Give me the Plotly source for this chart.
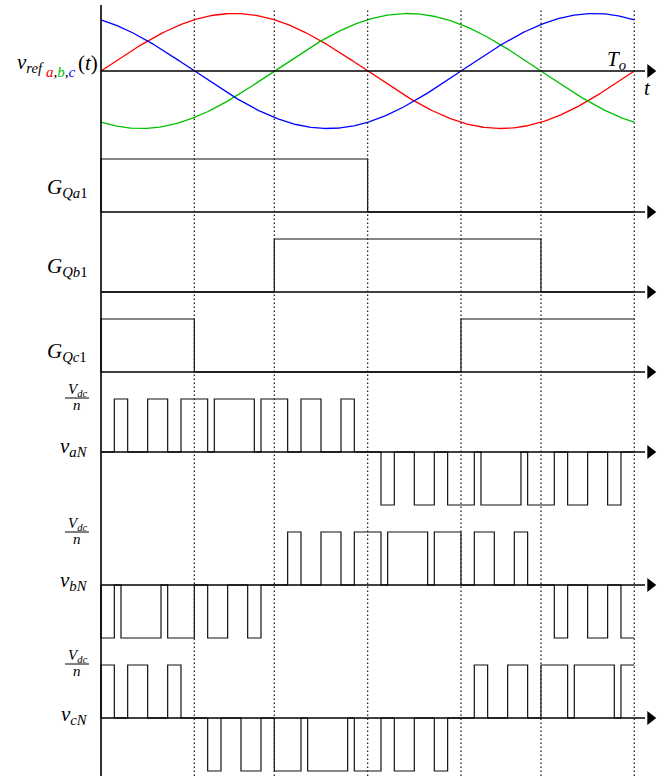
import numpy as np
import plotly.graph_objects as go

# ---------------------------------------------------------------
# Signals (time in drawing units, one fundamental period T_o = 8)
# ---------------------------------------------------------------
T_O = 8.0

phase_labels = ["a", "b", "c"]
phase_colors = ["#ff0000", "#00c000", "#0000ff"]
phase_rise_times = [0.0, 2.6, 5.4]      # rising zero crossing of each reference
ref_amplitude = 1.0

# switching instants (dotted guides)
guide_times = [1.4, 2.6, 4.0, 5.4, 6.6, 8.0]

# gate on-intervals of the upper switches
gate_a_on = [(0.0, 4.0)]
gate_b_on = [(2.6, 6.6)]
gate_c_on = [(0.0, 1.4), (5.4, 8.0)]

# output pulses: (start, end, level in units of Vdc/n)
v_aN_pulses = [(0.2, 0.4, 1), (0.7, 1.0, 1), (1.2, 1.6, 1), (1.7, 2.3, 1),
               (2.4, 2.8, 1), (3.0, 3.3, 1), (3.6, 3.8, 1),
               (4.2, 4.4, -1), (4.7, 5.0, -1), (5.2, 5.6, -1), (5.7, 6.3, -1),
               (6.4, 6.8, -1), (7.0, 7.3, -1), (7.6, 7.8, -1)]
v_bN_pulses = [(0.0, 0.2, -1), (0.3, 0.9, -1), (1.0, 1.4, -1), (1.6, 1.9, -1),
               (2.2, 2.4, -1),
               (2.8, 3.0, 1), (3.3, 3.6, 1), (3.8, 4.2, 1), (4.3, 4.9, 1),
               (5.0, 5.4, 1), (5.6, 5.9, 1), (6.2, 6.4, 1),
               (6.8, 7.0, -1), (7.3, 7.6, -1), (7.8, 8.0, -1)]
v_cN_pulses = [(0.0, 0.2, 1), (0.4, 0.7, 1), (1.0, 1.2, 1),
               (1.6, 1.8, -1), (2.1, 2.4, -1), (2.6, 3.0, -1), (3.1, 3.7, -1),
               (3.8, 4.2, -1), (4.4, 4.7, -1), (5.0, 5.2, -1),
               (5.6, 5.8, 1), (6.1, 6.4, 1), (6.6, 7.0, 1), (7.1, 7.7, 1),
               (7.8, 8.0, 1)]

# ---------------------------------------------------------------
# Page geometry (pixels)
# ---------------------------------------------------------------
W, H = 664, 779
X0_PX, PX_PER_T = 101.0, 533.3 / T_O

# baseline pixel row and pixels per unit for each strip
strips = [
    ("y",  71.0, 57.5),   # references
    ("y2", 212.0, 53.0),  # G_Qa1
    ("y3", 292.0, 53.0),  # G_Qb1
    ("y4", 372.0, 53.0),  # G_Qc1
    ("y5", 452.0, 53.0),  # v_aN
    ("y6", 585.0, 53.0),  # v_bN
    ("y7", 718.0, 53.0),  # v_cN
]


def px(x):
    return x / W


def py(y):
    return 1.0 - y / H


def steps_from_intervals(intervals, t_end=T_O):
    xs, ys = [0.0], [0.0]
    for s, e, lv in intervals:
        xs.append(s)
        ys.append(lv)
        if e < t_end:
            xs.append(e)
            ys.append(0)
        else:
            xs.append(t_end)
            ys.append(lv)
    if xs[-1] < t_end:
        xs.append(t_end)
        ys.append(0)
    return xs, ys


fig = go.Figure()

# three sinusoidal references
t = np.linspace(0, T_O, 400)
for name, col, t0 in zip(phase_labels, phase_colors, phase_rise_times):
    fig.add_trace(go.Scatter(
        x=t, y=ref_amplitude * np.sin(2 * np.pi * (t - t0) / T_O),
        mode="lines", line=dict(color=col, width=1.3),
        yaxis="y", name=name, showlegend=False, hoverinfo="skip"))

# gate signals
for axis, on in zip(["y2", "y3", "y4"], [gate_a_on, gate_b_on, gate_c_on]):
    xs, ys = steps_from_intervals([(s, e, 1) for s, e in on])
    fig.add_trace(go.Scatter(x=xs, y=ys, mode="lines", line_shape="hv",
                             line=dict(color="#111111", width=1.2),
                             yaxis=axis, showlegend=False, hoverinfo="skip"))

# phase voltages
for axis, pulses in zip(["y5", "y6", "y7"], [v_aN_pulses, v_bN_pulses, v_cN_pulses]):
    xs, ys = steps_from_intervals(pulses)
    fig.add_trace(go.Scatter(x=xs, y=ys, mode="lines", line_shape="hv",
                             line=dict(color="#111111", width=1.2),
                             yaxis=axis, showlegend=False, hoverinfo="skip"))

# time axes with arrow heads
T_AXIS_END = 8.16
T_ARROW = 8.24
shapes = []
for axis, _, _ in strips:
    shapes.append(dict(type="line", xref="x", yref=axis, x0=0, x1=T_AXIS_END,
                       y0=0, y1=0, line=dict(color="black", width=1.6)))
    fig.add_trace(go.Scatter(x=[T_ARROW], y=[0], mode="markers", yaxis=axis,
                             marker=dict(symbol="triangle-right", size=12,
                                         color="black", line=dict(width=0)),
                             showlegend=False, hoverinfo="skip"))

# vertical axis
shapes.append(dict(type="line", xref="x", yref="paper", x0=0, x1=0,
                   y0=py(776), y1=py(5), line=dict(color="black", width=1.6)))

# dotted switching guides
for tg in guide_times:
    shapes.append(dict(type="line", xref="x", yref="paper", x0=tg, x1=tg,
                       y0=py(776), y1=py(10),
                       line=dict(color="#222222", width=1.3, dash="1.4px,2.6px")))

# Vdc/n fraction bars
for y_bar in [398, 532, 664]:
    shapes.append(dict(type="line", xref="paper", yref="paper",
                       x0=px(65), x1=px(89), y0=py(y_bar), y1=py(y_bar),
                       line=dict(color="black", width=1)))

FONT = "'Liberation Serif', 'DejaVu Serif', serif"
ann = []


def label(text, x, y, size=21, xanchor="right", yanchor="middle"):
    ann.append(dict(text=text, x=px(x), y=py(y), xref="paper", yref="paper",
                    xanchor=xanchor, yanchor=yanchor, showarrow=False,
                    font=dict(family=FONT, size=size, color="black")))


# reference label: v_ref, then the coloured phase letters set lower, then (t)
abc = ",".join(f"<span style='color:{c}'>{n}</span>"
               for n, c in zip(phase_labels, phase_colors))
label("<i>v</i><sub><i>ref</i></sub>", 46, 63)
label(f"<i>{abc}</i>", 44, 72, size=15, xanchor="left")
label("(<i>t</i>)", 76, 63, xanchor="left")

label("<i>T</i><sub><i>o</i></sub>", 616, 60, xanchor="center")
label("<i>t</i>", 647, 88, xanchor="center")
label("<i>G</i><sub><i>Qa</i>1</sub>", 89, 188)
label("<i>G</i><sub><i>Qb</i>1</sub>", 89, 267)
label("<i>G</i><sub><i>Qc</i>1</sub>", 89, 352)
for y_bar in [398, 532, 664]:
    label("<i>V</i><sub><i>dc</i></sub>", 77, y_bar - 8, size=15, xanchor="center")
    label("<i>n</i>", 77, y_bar + 7, size=15, xanchor="center")
for y_txt, name in zip([447, 581, 715], ["a", "b", "c"]):
    label(f"<i>v</i><sub><i>{name}N</i></sub>", 90, y_txt)

layout_axes = {}
for axis, base, scale in strips:
    key = "yaxis" if axis == "y" else "yaxis" + axis[1:]
    cfg = dict(range=[(base - H) / scale, base / scale], visible=False,
               fixedrange=True)
    if axis != "y":
        cfg["overlaying"] = "y"
    layout_axes[key] = cfg

fig.update_layout(
    width=W, height=H, autosize=False,
    margin=dict(l=0, r=0, t=0, b=0),
    paper_bgcolor="white", plot_bgcolor="white",
    font=dict(family=FONT),
    xaxis=dict(range=[-X0_PX / PX_PER_T, (W - X0_PX) / PX_PER_T],
               visible=False, fixedrange=True),
    shapes=shapes, annotations=ann, showlegend=False,
    **layout_axes,
)

fig.write_html("out.html", config={"displayModeBar": False})
